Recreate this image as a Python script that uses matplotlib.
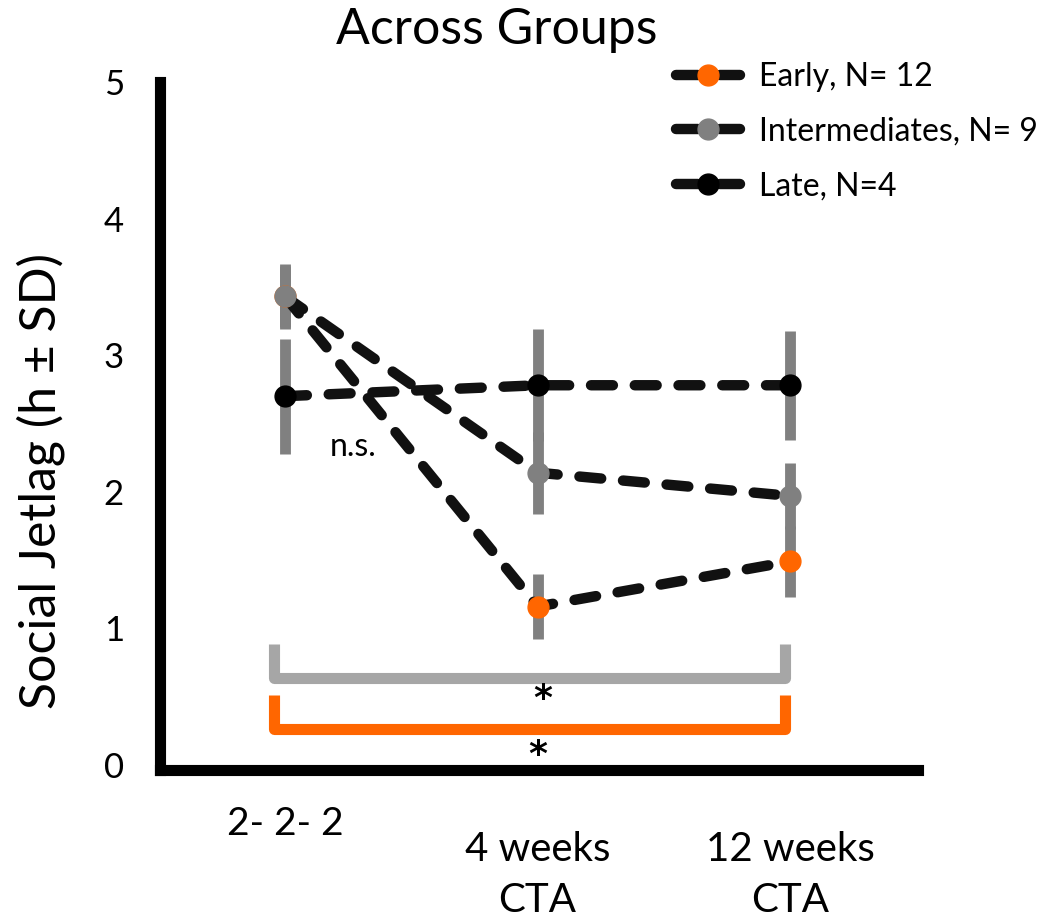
import numpy as np
import matplotlib
matplotlib.use("Agg")
import matplotlib.pyplot as plt

plt.rcParams['font.family'] = ['Lato', 'DejaVu Sans']

# time points
timepoints = ["2- 2- 2", "4 weeks\nCTA", "12 weeks\nCTA"]

# social jetlag means (h) per chronotype group
early_mean = [3.43, 1.16, 1.49]
inter_mean = [3.43, 2.14, 1.97]
late_mean = [2.70, 2.78, 2.78]

# standard deviations
early_sd = [0.24, 0.24, 0.26]
inter_sd = [0.22, 0.30, 0.24]
late_sd = [0.42, 0.41, 0.40]

group_names = ["Early, N= 12", "Intermediates, N= 9", "Late, N=4"]
group_colors = ["#ff6600", "#808080", "#000000"]

x = np.arange(len(timepoints))

fig = plt.figure(figsize=(10.59, 9.19), dpi=100)
ax = fig.add_axes([0.1511, 0.1616, 0.7158, 0.7492])

means = [early_mean, inter_mean, late_mean]
sds = [early_sd, inter_sd, late_sd]

# error bars first, all in grey
for m, s in zip(means, sds):
    ax.errorbar(x, m, yerr=s, fmt='none', ecolor='#808080',
                elinewidth=7.8, capsize=0, zorder=1)

handles = []
for i, (m, name, col) in enumerate(zip(means, group_names, group_colors)):
    h, = ax.plot(x, m, color='#111111', lw=7.5, linestyle=(0, (2.1, 2.1)),
                 dash_capstyle='round', marker='o', markersize=15,
                 markerfacecolor=col, markeredgecolor=col,
                 label=name, zorder=3 + i)
    handles.append(h)

# significance brackets
ax.plot([-0.044, -0.044, 1.98, 1.98], [0.886, 0.637, 0.637, 0.886],
        color='#a6a6a6', lw=8, solid_joinstyle='round',
        solid_capstyle='butt', zorder=2)
ax.plot([-0.044, -0.044, 1.98, 1.98], [0.512, 0.264, 0.264, 0.512],
        color='#ff6600', lw=8, solid_joinstyle='round',
        solid_capstyle='butt', zorder=2)
ax.text(1.02, 0.48, "*", ha='center', va='center', fontsize=26,
        family='DejaVu Sans', fontweight='bold')
ax.text(1.0, 0.07, "*", ha='center', va='center', fontsize=26,
        family='DejaVu Sans', fontweight='bold')
ax.text(0.27, 2.33, "n.s.", ha='center', va='center', fontsize=23)

ax.set_xlim(-0.495, 2.507)
ax.set_ylim(-0.04, 5.0)
ax.set_yticks([0, 1, 2, 3, 4, 5])
ax.set_xticks([])
ax.tick_params(axis='y', length=0, pad=26, labelsize=25)

for side in ['top', 'right']:
    ax.spines[side].set_visible(False)
for side in ['left', 'bottom']:
    ax.spines[side].set_linewidth(8)
    ax.spines[side].set_color('black')

# category labels under the axis
ax.text(x[0], -0.078, timepoints[0], transform=ax.get_xaxis_transform(),
        ha='center', va='center', fontsize=28)
for xi, lab in zip(x[1:], timepoints[1:]):
    ax.text(xi, -0.152, lab, transform=ax.get_xaxis_transform(),
            ha='center', va='center', fontsize=29, linespacing=1.45)

ax.text(-0.158, 0.42, "Social Jetlag (h \u00b1 SD)", transform=ax.transAxes,
        rotation=90, ha='center', va='center', fontsize=36)

fig.text(497 / 1059, 1 - 30 / 919, "Across Groups", ha='center',
         va='center', fontsize=36)

fig.legend(handles=handles, loc='upper left',
           bbox_to_anchor=(676 / 1059, 1 - 62 / 919), frameon=False,
           fontsize=23, handlelength=2.0, handletextpad=0.6,
           labelspacing=0.77, borderpad=0, borderaxespad=0, numpoints=1)

fig.savefig("out.png", dpi=100)
